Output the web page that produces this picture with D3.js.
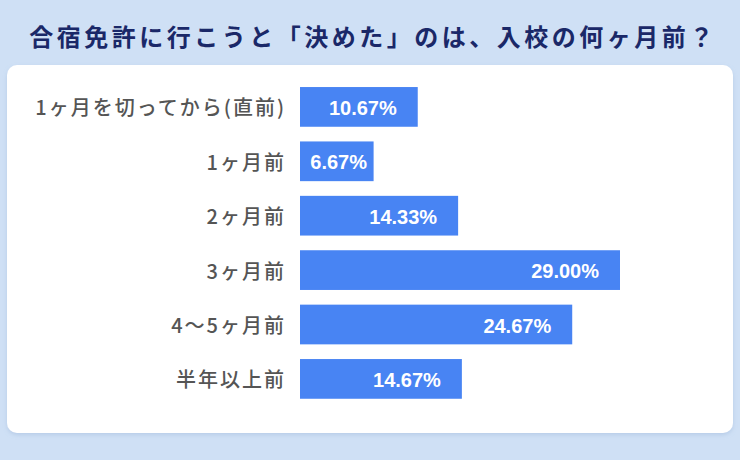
<!DOCTYPE html>
<html><head><meta charset="utf-8">
<script src="https://cdn.jsdelivr.net/npm/d3@7"></script>
<style>
html,body{margin:0;padding:0;background:#cfe0f5;}
svg{display:block;}
</style></head>
<body>
<svg id="chart" width="740" height="460"></svg>
<script>
const titleText = "合宿免許に行こうと「決めた」のは、入校の何ヶ月前？";
const categories = ["1ヶ月を切ってから(直前)", "1ヶ月前", "2ヶ月前", "3ヶ月前", "4〜5ヶ月前", "半年以上前"];
const values = [10.67, 6.67, 14.33, 29.00, 24.67, 14.67];

const svg = d3.select("#chart");
const W = 740, H = 460;

svg.append("rect").attr("width", W).attr("height", H).attr("fill", "#cfe0f5");

const defs = svg.append("defs");
const f = defs.append("filter").attr("id", "sh").attr("x", "-5%").attr("y", "-5%").attr("width", "110%").attr("height", "115%");
f.append("feDropShadow").attr("dx", 0).attr("dy", 2).attr("stdDeviation", 2).attr("flood-color", "#8aa8d0").attr("flood-opacity", 0.35);

svg.append("rect").attr("x", 7).attr("y", 65).attr("width", 726).attr("height", 368)
  .attr("rx", 10).attr("fill", "#ffffff").attr("filter", "url(#sh)");

svg.append("text").attr("x", 373).attr("y", 35)
  .attr("text-anchor", "middle").attr("dominant-baseline", "central")
  .attr("font-family", "'Noto Sans CJK JP', sans-serif").attr("font-weight", 700)
  .attr("font-size", 24).attr("letter-spacing", "3.5px")
  .attr("fill", "#1a2868").text(titleText);

const x = d3.scaleLinear().domain([0, 29]).range([300, 620]);
const y = d3.scaleBand().domain(categories).range([79.7, 406.1]).paddingInner(0.27).paddingOuter(0.135);

const g = svg.append("g");
g.selectAll("rect.bar").data(values).join("rect").attr("class", "bar")
  .attr("x", x(0)).attr("y", (d, i) => y(categories[i]))
  .attr("width", d => x(d) - x(0)).attr("height", y.bandwidth())
  .attr("fill", "#4884f3");

g.selectAll("text.val").data(values).join("text").attr("class", "val")
  .attr("x", d => Math.max(x(d) - 21, x(0) + 67))
  .attr("y", (d, i) => y(categories[i]) + y.bandwidth() / 2 + 1)
  .attr("text-anchor", "end").attr("dominant-baseline", "central")
  .attr("font-family", "'Liberation Sans', Arial, sans-serif").attr("font-weight", 700)
  .attr("font-size", 20).attr("fill", "#ffffff")
  .text(d => d.toFixed(2) + "%");

g.selectAll("text.cat").data(categories).join("text").attr("class", "cat")
  .attr("x", 286).attr("y", d => y(d) + y.bandwidth() / 2)
  .attr("text-anchor", "end").attr("dominant-baseline", "central")
  .attr("font-family", "'Noto Sans CJK JP', sans-serif").attr("font-weight", 500)
  .attr("font-size", 20).attr("letter-spacing", "2px").attr("fill", "#555555")
  .text(d => d);
</script>
</body></html>
